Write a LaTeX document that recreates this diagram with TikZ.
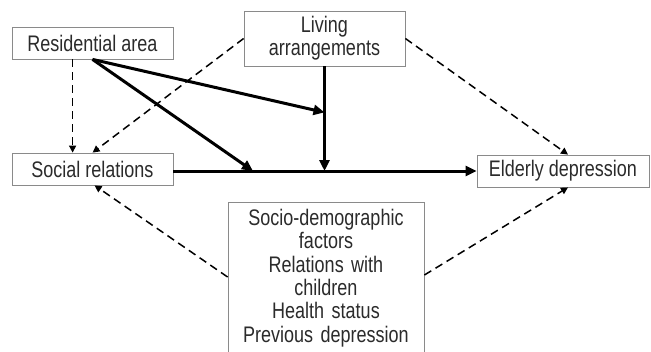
\documentclass[tikz,border=0pt]{standalone}
\usepackage{fontspec}
\setmainfont{Liberation Sans}[FakeStretch=0.8]
\usetikzlibrary{arrows.meta,calc}
\definecolor{txt}{HTML}{2B2B2B}
\definecolor{frame}{HTML}{8A8A8A}
\begin{document}
\begin{tikzpicture}[x=1pt,y=-1pt,
  box/.style={draw=frame,line width=0.8pt,text=txt,inner sep=0pt,align=center,
    font=\fontsize{22.5}{23.3}\selectfont},
  solidarrow/.style={line width=3pt,-{Triangle[length=11pt,width=10pt]}},
  dasharrow/.style={line width=1.5pt,dash pattern=on 8pt off 5pt,-{Triangle[length=7pt,width=7pt]}}]
\useasboundingbox[fill=white] (0,0) rectangle (651,351);
\node[box,minimum width=161pt,minimum height=32pt] (ra) at (92.5,43) {Residential area};
\node[box,minimum width=161pt,minimum height=55pt] (la) at (324.5,38.5) {Living\\arrangements};
\node[box,minimum width=161pt,minimum height=32pt] (sr) at (92.5,169) {Social relations};
\node[box,minimum width=172pt,minimum height=32pt] (ed) at (563,171) {Elderly depression};
\node[box,anchor=north,text width=196pt,inner ysep=6.8pt] (cf) at (326,202)
  {Socio-demographic\\factors\\Relations with\\children\\Health status\\Previous depression};
\coordinate (j1) at ($(la.south)+(0,46)$);
\coordinate (j2) at (la.south |- ed.west);
\coordinate (j3) at (253,171);
% solid paths
\draw[solidarrow] (sr.east |- ed.west) -- (ed.west);
\draw[solidarrow] (la.south) -- (j2);
\draw[solidarrow] (ra.south) -- (j1);
\draw[solidarrow] (ra.south) -- (j3);
% dashed paths
\draw[dasharrow] ($(ra.south west)+(61,0)$) -- ($(sr.north west)+(61,0)$);
\draw[dasharrow] (la.west) -- ($(sr.north west)+(81,0)$);
\draw[dasharrow] (la.east) -- ($(ed.north)+(5,0)$);
\draw[dasharrow] ($(cf.north west)+(0,75)$) -- ($(sr.south west)+(83,0)$);
\draw[dasharrow] ($(cf.north east)+(0,73)$) -- ($(ed.south)+(5,0)$);
\end{tikzpicture}
\end{document}
